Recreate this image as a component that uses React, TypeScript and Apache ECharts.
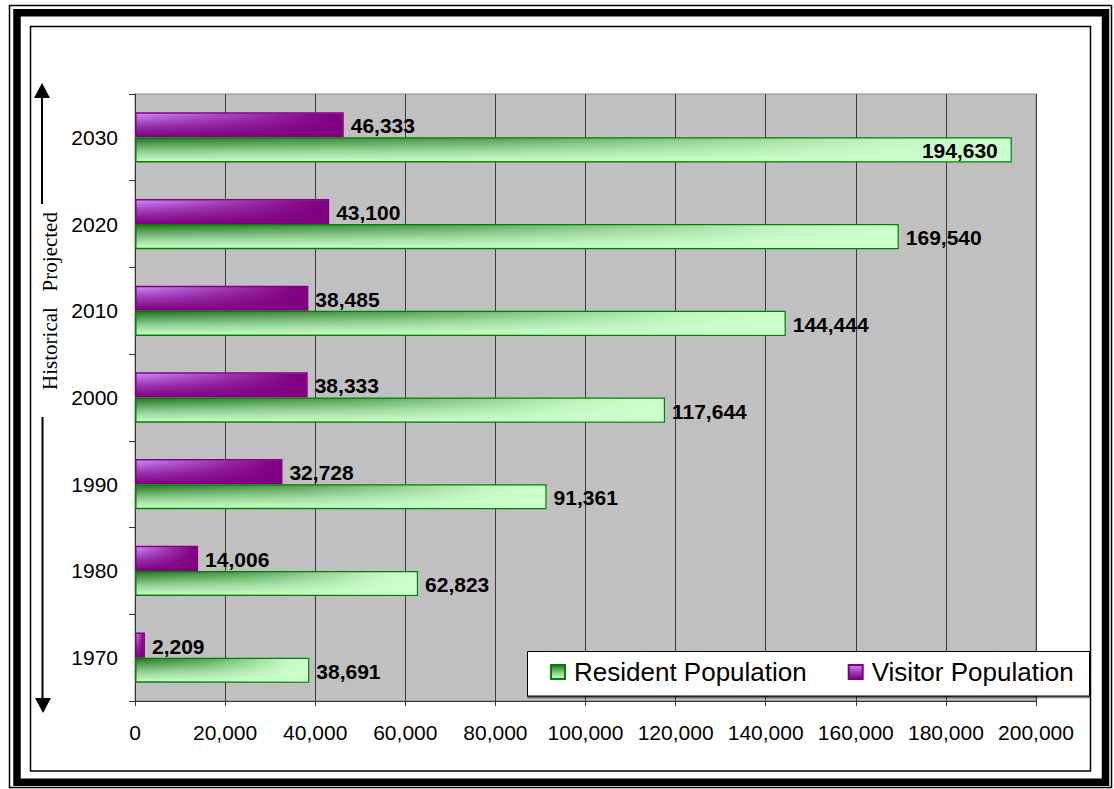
import React, { useEffect, useRef } from "react";
import * as echarts from "echarts";

// Population by decade (1970–2010 historical, 2020–2030 projected)
const years = ["1970", "1980", "1990", "2000", "2010", "2020", "2030"];
const residentPopulation = [38691, 62823, 91361, 117644, 144444, 169540, 194630];
const visitorPopulation = [2209, 14006, 32728, 38333, 38485, 43100, 46333];
const residentName = "Resident Population";
const visitorName = "Visitor Population";
const xMax = 200000;
const xStep = 20000;

const SANS = "Liberation Sans, Arial, Helvetica, sans-serif";
const SERIF = "Liberation Serif, Times New Roman, serif";
const CATEGORY_GAP = 0.42;

const fmt = (v: number) => v.toLocaleString("en-US");

// base fills: vertical shading of each bar
const residentFill = new echarts.graphic.LinearGradient(0, 0, 0, 1, [
  { offset: 0, color: "#247424" },
  { offset: 0.55, color: "#8ccc8c" },
  { offset: 1, color: "#ccffcc" },
]);
const visitorFill = new echarts.graphic.LinearGradient(0, 0, 0, 1, [
  { offset: 0, color: "#d08cff" },
  { offset: 0.55, color: "#9a36b0" },
  { offset: 1, color: "#800080" },
]);
// horizontal wash laid over the bars so the shading fades out to the right
const residentWash = new echarts.graphic.LinearGradient(0, 0, 1, 0, [
  { offset: 0, color: "rgba(204,255,204,0)" },
  { offset: 0.4, color: "rgba(204,255,204,0.3)" },
  { offset: 0.85, color: "rgba(204,255,204,0.92)" },
  { offset: 1, color: "rgba(204,255,204,1)" },
]);
const visitorWash = new echarts.graphic.LinearGradient(0, 0, 1, 0, [
  { offset: 0, color: "rgba(128,0,128,0)" },
  { offset: 0.9, color: "rgba(128,0,128,0.95)" },
  { offset: 1, color: "rgba(128,0,128,1)" },
]);

const labelFont = `bold 21px ${SANS}`;

export default function App() {
  const ref = useRef<HTMLDivElement>(null);

  useEffect(() => {
    if (!ref.current) return;
    const chart = echarts.init(ref.current, null, { renderer: "svg" });

    const lastIdx = residentPopulation.length - 1;
    const overlayData = years.map((_, i) => [i, visitorPopulation[i], residentPopulation[i]]);

    const renderOverlay = (params: any, api: any) => {
      const cat = api.value(0);
      const vis = api.value(1);
      const res = api.value(2);
      const origin = api.coord([0, cat]);
      const band = api.size([0, 1])[1];
      const bw = (band * (1 - CATEGORY_GAP)) / 2;
      const cy = origin[1];
      const visEnd = api.coord([vis, cat])[0];
      const resEnd = api.coord([res, cat])[0];
      const inset = 1.25;
      const inside = params.dataIndex === lastIdx;
      const children: any[] = [
        {
          type: "rect",
          shape: { x: origin[0] + inset, y: cy - bw + inset, width: Math.max(0, visEnd - origin[0] - 2 * inset), height: bw - 2 * inset },
          style: { fill: visitorWash },
        },
        {
          type: "rect",
          shape: { x: origin[0] + inset, y: cy + inset, width: Math.max(0, resEnd - origin[0] - 2 * inset), height: bw - 2 * inset },
          style: { fill: residentWash },
        },
        {
          type: "text",
          x: visEnd + 7,
          y: cy - bw / 2 + 1,
          style: { text: fmt(vis), font: labelFont, fill: "#000", align: "left", verticalAlign: "middle" },
        },
        {
          type: "text",
          x: inside ? resEnd - 14 : resEnd + 7,
          y: cy + bw / 2 + 1,
          style: {
            text: fmt(res),
            font: labelFont,
            fill: "#000",
            align: inside ? "right" : "left",
            verticalAlign: "middle",
          },
        },
      ];
      return { type: "group", children };
    };

    chart.setOption({
      animation: false,
      backgroundColor: "#fff",
      grid: {
        left: 135,
        right: 78,
        top: 94,
        bottom: 88,
        show: true,
        backgroundColor: "#c0c0c0",
        borderColor: "#8c8c8c",
        borderWidth: 1,
      },
      legend: {
        data: [residentName, visitorName],
        left: 550,
        top: 659,
        padding: 0,
        itemWidth: 14,
        itemHeight: 14,
        itemGap: 41,
        icon: "rect",
        textStyle: { fontFamily: SANS, fontSize: 26, color: "#000", padding: [0, 0, 0, 4] },
        z: 10,
      },
      xAxis: {
        type: "value",
        min: 0,
        max: xMax,
        interval: xStep,
        axisLine: { show: true, lineStyle: { color: "#333", width: 1 } },
        axisTick: { show: true, length: 5, lineStyle: { color: "#333" } },
        axisLabel: {
          margin: 21,
          fontFamily: SANS,
          fontSize: 21,
          color: "#000",
          formatter: (v: number) => fmt(v),
        },
        splitLine: { show: true, lineStyle: { color: "#3c3c3c", width: 1 } },
      },
      yAxis: {
        type: "category",
        data: years,
        axisLine: { show: true, lineStyle: { color: "#333", width: 1 } },
        axisTick: { show: true, length: 6, lineStyle: { color: "#333" } },
        axisLabel: { margin: 17, fontFamily: SANS, fontSize: 21, color: "#000" },
        splitLine: { show: false },
      },
      series: [
        {
          name: visitorName,
          type: "bar",
          data: visitorPopulation,
          barGap: "0%",
          barCategoryGap: `${CATEGORY_GAP * 100}%`,
          itemStyle: { color: visitorFill, borderColor: "#800080", borderWidth: 1.5 },
        },
        {
          name: residentName,
          type: "bar",
          data: residentPopulation,
          barGap: "0%",
          barCategoryGap: `${CATEGORY_GAP * 100}%`,
          itemStyle: { color: residentFill, borderColor: "#008000", borderWidth: 1.5 },
        },
        {
          name: "shading",
          type: "custom",
          silent: true,
          z: 3,
          data: overlayData,
          encode: { y: 0, x: [1, 2] },
          renderItem: renderOverlay,
        },
      ],
      graphic: [
        // triple frame around the chart
        {
          type: "rect",
          shape: { x: 9.5, y: 5.5, width: 1102, height: 782 },
          style: { fill: "none", stroke: "#000", lineWidth: 1.5 },
          silent: true,
        },
        {
          type: "rect",
          shape: { x: 17, y: 12.8, width: 1088.5, height: 769.5 },
          style: { fill: "none", stroke: "#000", lineWidth: 7.5 },
          silent: true,
        },
        {
          type: "rect",
          shape: { x: 30.5, y: 26.5, width: 1060, height: 744.5 },
          style: { fill: "none", stroke: "#000", lineWidth: 1.5 },
          silent: true,
        },
        // legend box
        {
          type: "rect",
          z: 4,
          shape: { x: 527.5, y: 651.5, width: 562, height: 44.5 },
          style: {
            fill: "#fff",
            stroke: "#000",
            lineWidth: 1,
            shadowColor: "rgba(0,0,0,0.6)",
            shadowOffsetY: 1.5,
            shadowOffsetX: 0,
            shadowBlur: 0,
          },
          silent: true,
        },
        // Historical / Projected arrows
        {
          type: "line",
          shape: { x1: 42, y1: 96, x2: 42, y2: 204 },
          style: { stroke: "#000", lineWidth: 2 },
          silent: true,
        },
        {
          type: "polygon",
          shape: { points: [[42, 83], [34, 98], [50, 98]] },
          style: { fill: "#000" },
          silent: true,
        },
        {
          type: "line",
          shape: { x1: 42.5, y1: 417, x2: 42.5, y2: 700 },
          style: { stroke: "#000", lineWidth: 2 },
          silent: true,
        },
        {
          type: "polygon",
          shape: { points: [[43, 713], [35, 698], [51, 698]] },
          style: { fill: "#000" },
          silent: true,
        },
        {
          type: "text",
          x: 50,
          y: 301,
          rotation: Math.PI / 2,
          style: {
            text: "Historical   Projected",
            font: `21px ${SERIF}`,
            fill: "#000",
            align: "center",
            verticalAlign: "middle",
          },
          silent: true,
        },
      ],
    });

    return () => chart.dispose();
  }, []);

  return (
    <div
      ref={ref}
      style={{ position: "fixed", left: 0, top: 0, width: 1114, height: 789, background: "#fff" }}
    />
  );
}
